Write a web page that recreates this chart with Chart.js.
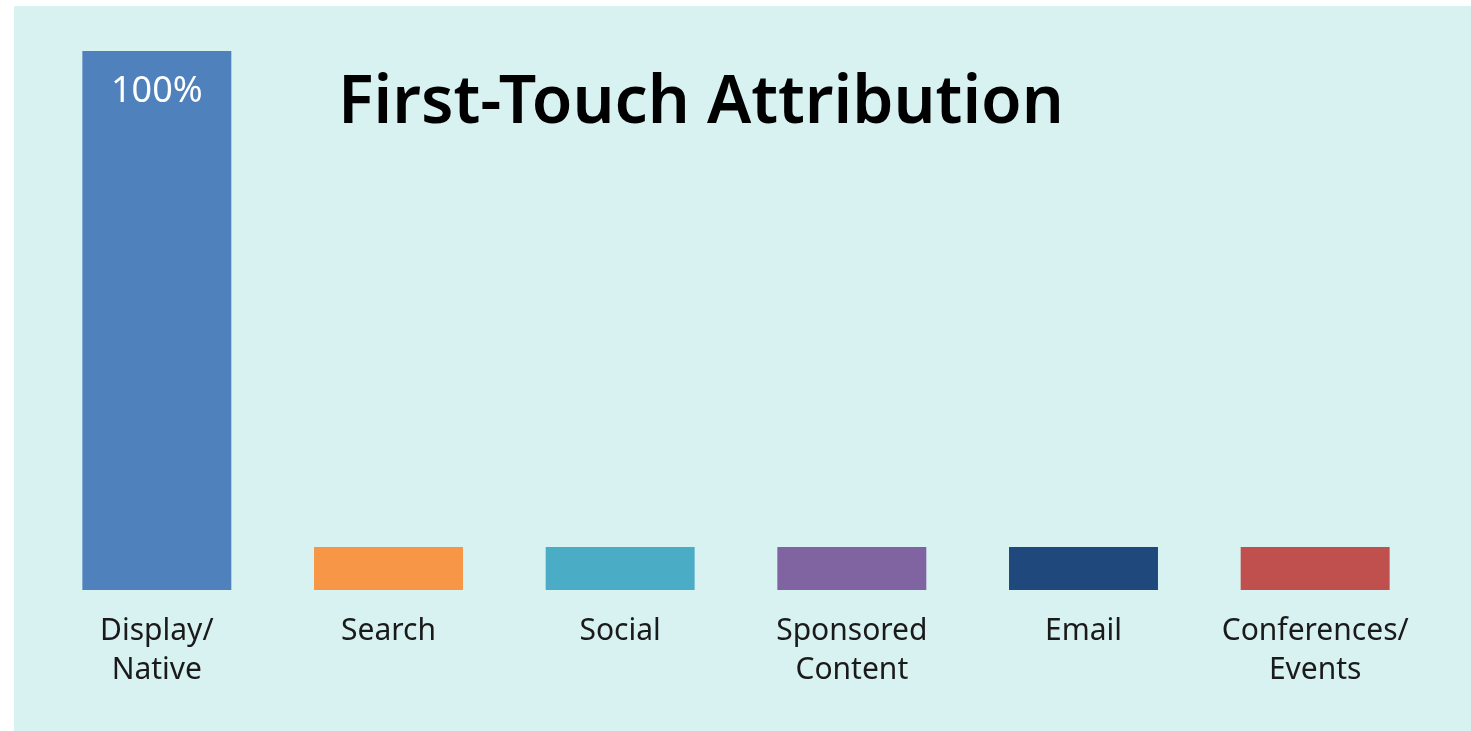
<!DOCTYPE html>
<html>
<head>
<meta charset="utf-8">
<script src="https://cdn.jsdelivr.net/npm/chart.js@4"></script>
<style>
  html, body { margin: 0; padding: 0; background: #ffffff; }
  #panel {
    position: absolute; left: 14px; top: 6px;
    width: 1457px; height: 725px;
    background: #d8f2f2;
  }
  #panel canvas { display: block; }
</style>
</head>
<body>
<div id="panel"><canvas id="chart" width="1457" height="725"></canvas></div>
<script>
const categories = [["Display/", "Native"], "Search", "Social", ["Sponsored", "Content"], "Email", ["Conferences/", "Events"]];
const shares = [100, 8, 8, 8, 8, 8];
const shareLabels = ["100%", "", "", "", "", ""];
const barColors = ["#4f81bd", "#f79646", "#4bacc6", "#8064a2", "#1f497d", "#c0504d"];
const chartTitle = "First-Touch Attribution";

const FONT = "'Noto Sans', 'Open Sans', sans-serif";

// title + value label, drawn inside the plot area
const overlay = {
  id: 'overlay',
  afterDatasetsDraw(chart) {
    const ctx = chart.ctx;
    const meta = chart.getDatasetMeta(0);
    ctx.save();
    ctx.textAlign = 'center';
    ctx.textBaseline = 'middle';
    ctx.fillStyle = '#ffffff';
    ctx.font = "36px " + FONT;
    meta.data.forEach((bar, i) => {
      if (!shareLabels[i]) return;
      ctx.fillText(shareLabels[i], bar.x, bar.y + 41);
    });
    ctx.fillStyle = '#000000';
    ctx.font = "600 66px " + FONT;
    ctx.fillText(chartTitle, 687, 98);
    ctx.restore();
  }
};

new Chart(document.getElementById('chart'), {
  type: 'bar',
  data: {
    labels: categories,
    datasets: [{
      data: shares,
      backgroundColor: barColors,
      borderWidth: 0,
      barPercentage: 1,
      categoryPercentage: 0.643
    }]
  },
  options: {
    responsive: false,
    animation: false,
    devicePixelRatio: 1,
    layout: { padding: { left: 27, right: 40, top: 45, bottom: 0 } },
    plugins: { legend: { display: false }, tooltip: { enabled: false }, title: { display: false } },
    scales: {
      x: {
        grid: { display: false, drawTicks: false },
        border: { display: false },
        ticks: { color: '#1a1a1a', font: { family: FONT, size: 30, lineHeight: 1.3 }, padding: 22, maxRotation: 0, autoSkip: false },
        afterFit(scale) { scale.height = 141; }
      },
      y: {
        display: false,
        min: 0,
        max: 100
      }
    }
  },
  plugins: [overlay]
});
</script>
</body>
</html>
